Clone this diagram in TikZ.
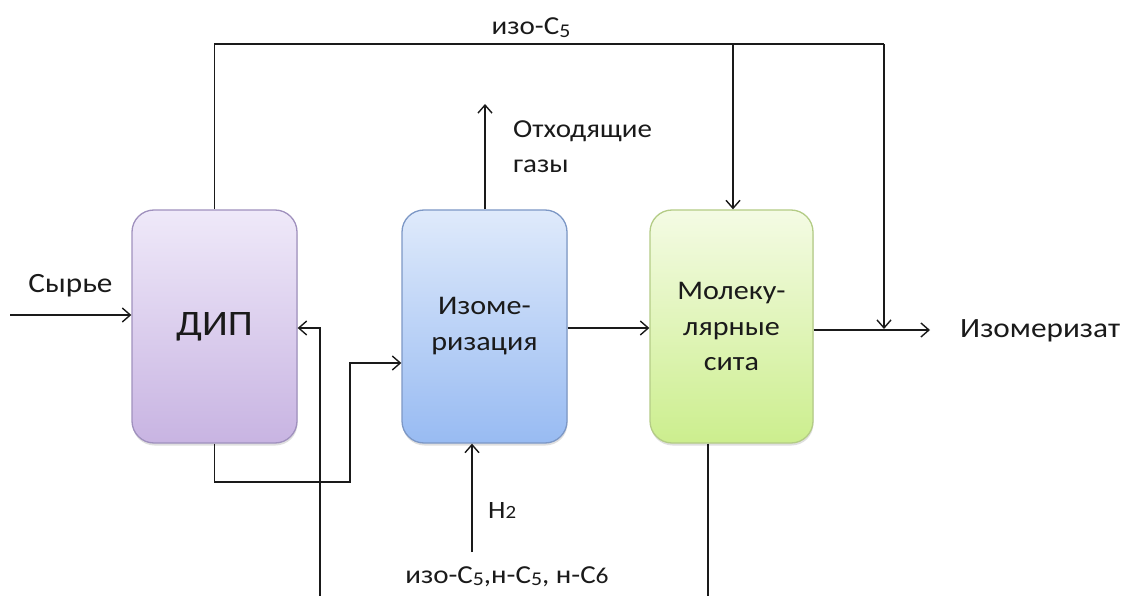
\documentclass[tikz,border=0pt]{standalone}
\usepackage{fontspec}
\setmainfont{Carlito}[FakeStretch=1.12]
\usetikzlibrary{arrows.meta,shadows}
\definecolor{diptop}{HTML}{EFE9F9}
\definecolor{dipbot}{HTML}{C8B4E2}
\definecolor{dipbrd}{HTML}{A091BE}
\definecolor{isotop}{HTML}{DFEAFB}
\definecolor{isobot}{HTML}{98BBF2}
\definecolor{isobrd}{HTML}{7D98C6}
\definecolor{moltop}{HTML}{F4FBE4}
\definecolor{molbot}{HTML}{CCEE8E}
\definecolor{molbrd}{HTML}{B4CC86}
\definecolor{ink}{HTML}{1A1A1A}
\newcommand\lowdig[1]{\raisebox{-0.11em}{\scalebox{0.75}{#1}}}
\newcommand\flatdig[1]{\scalebox{0.75}{#1}}
\newcommand\talldig[1]{\scalebox{0.88}{#1}}
\begin{document}
\begin{tikzpicture}[x=1bp,y=-1bp,
  unit/.style={rounded corners=22bp, line width=1.3bp, minimum height=233bp,
    align=center, inner sep=0pt, text=ink,
    drop shadow={shadow xshift=0.5bp, shadow yshift=-2.5bp, opacity=0.25},
    font=\fontsize{27}{36}\selectfont},
  flow/.style={draw=ink, line width=1.4bp},
  arr/.style={flow, -{Straight Barb[length=8bp,width=14bp]}},
  lbl/.style={font=\fontsize{26}{36}\selectfont, inner sep=0pt, text=ink},
  biglbl/.style={lbl, font=\fontsize{28}{36}\selectfont}]
\useasboundingbox (0,0) rectangle (1128,596);
\fill[white] (0,0) rectangle (1128,596);

% units
\node[unit, draw=dipbrd, top color=diptop, bottom color=dipbot, minimum width=165bp]
  (dip) at (214.5,326.5) {\fontsize{36}{40}\selectfont ДИП};
\node[unit, draw=isobrd, top color=isotop, bottom color=isobot, minimum width=165bp]
  (iso) at (484.5,326.5) {Изоме-\\ризация};
\node[unit, draw=molbrd, top color=moltop, bottom color=molbot, minimum width=163bp]
  (mol) at (731.5,326.5) {Молеку-\\лярные\\сита};

% feed
\coordinate (feed) at (10,315);
\draw[arr] (feed) -- (feed -| dip.west);
\node[biglbl, anchor=base] (syr) at (70.5,293) {Сырье};

% iso-C5 recycle over the top
\coordinate (tl) at (214.5,44);
\coordinate (tr) at (884,44);
\coordinate (tb) at (733,44);
\coordinate (oj) at (884,329);
\draw[flow] (dip.north) -- (tl) -- (tr);
\draw[arr] (tr) -- (oj);
\draw[arr] (tb) -- (tb |- mol.north);
\node[lbl, anchor=base] (isoc5) at (531,35) {изо-С\lowdig{5}};

% off-gases
\coordinate (gt) at (485,104);
\draw[arr] (gt |- iso.north) -- (gt);
\node[lbl, anchor=base west] (gas1) at (513,138) {Отходящие};
\node[lbl, anchor=base west] (gas2) at (513,173) {газы};

% DIP bottom to isomerization
\coordinate (b1) at (214.5,482);
\coordinate (b2) at (350,482);
\coordinate (b3) at (350,363);
\draw[arr] (dip.south) -- (b1) -- (b2) -- (b3) -- (b3 -| iso.west);

% recycle into DIP
\coordinate (r0) at (320,600);
\coordinate (r1) at (320,328);
\draw[arr] (r0) -- (r1) -- (r1 -| dip.east);

% isomerization to sieves
\coordinate (m1) at (600,328);
\draw[arr] (m1 -| iso.east) -- (m1 -| mol.west);

% product
\coordinate (out) at (930,330);
\draw[arr] (out -| mol.east) -- (out);
\node[biglbl, anchor=base west] (prod) at (960,338) {Изомеризат};

% hydrogen
\coordinate (h0) at (472,552);
\draw[arr] (h0) -- (h0 |- iso.south);
\node[lbl, anchor=base west, font=\fontsize{25}{30}\selectfont] (h2) at (488,518) {H\flatdig{2}};
\node[lbl, anchor=base] (mix) at (507,583) {изо-С\lowdig{5},н-С\lowdig{5}, н-С\talldig{6}};

% sieves bottom
\coordinate (mb) at (708,600);
\draw[flow] (mb |- mol.south) -- (mb);
\end{tikzpicture}
\end{document}
